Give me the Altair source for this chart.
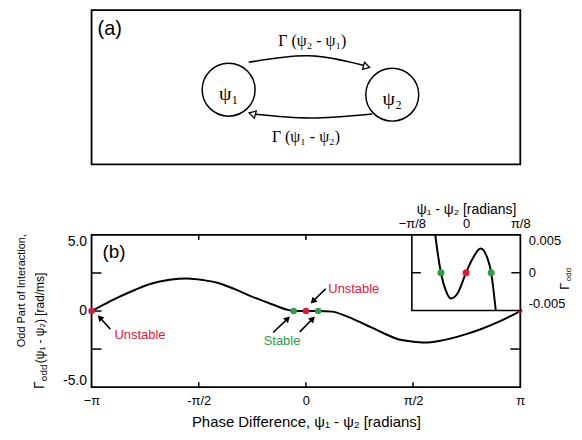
import math
import altair as alt
import pandas as pd

PI = math.pi

# ---------------- data ----------------
# Panel (b): odd part of the interaction function (main plot)
main_phase = [-PI, -2.95, -2.76, -2.50, -2.27, -2.00, -1.74, -1.50, -1.30, -1.05,
              -0.81, -0.60, -0.43, -0.30, -0.18, 0.0, 0.18, 0.38, 0.60, 0.86,
              1.10, 1.35, 1.55, 1.74, 1.95, 2.10, 2.35, 2.56, 2.83, PI]
main_gamma = [0.0, 0.45, 0.88, 1.40, 1.79, 2.05, 2.14, 2.03, 1.86, 1.45,
              0.98, 0.62, 0.33, 0.12, 0.0, 0.0, 0.0, -0.04, -0.35, -0.87,
              -1.38, -1.85, -2.00, -2.07, -1.97, -1.83, -1.52, -1.20, -0.70, 0.0]

# inset (zoom around zero)
inset_phase = [-0.223, -0.206, -0.182, -0.146, -0.110, -0.062, 0.0, 0.045,
               0.105, 0.153, 0.182, 0.201, 0.215]
inset_gamma = [0.005, 0.00265, 0.0, -0.0024, -0.0034, -0.00274, 0.0, 0.00177,
               0.0032, 0.0020, 0.0, -0.00265, -0.005]

# fixed points
main_fp_phase = [-PI, -0.18, 0.0, 0.18, PI]
main_fp_kind = ["Unstable", "Stable", "Unstable", "Stable", "Unstable"]
main_fp_size = [42, 42, 42, 42, 20]
inset_fp_phase = [-0.182, 0.0, 0.182]
inset_fp_kind = ["Stable", "Unstable", "Stable"]

# annotation labels (phase, gamma)
note_text = ["Unstable", "Stable", "Unstable"]
note_x = [-2.806, -0.35, 0.328]
note_y = [-1.59, -1.95, 1.42]
note_align = ["left", "center", "left"]
note_kind = ["Unstable", "Stable", "Unstable"]

# arrows (tail -> tip) in data units
arrow_tail_x = [-2.865, -0.48, -0.09, 0.29]
arrow_tail_y = [-1.20, -1.41, -1.37, 1.46]
arrow_tip_x = [-3.05, -0.235, 0.13, 0.07]
arrow_tip_y = [-0.28, -0.37, -0.37, 0.50]

x_tick_labels = ["−π", "-π/2", "0", "π/2", "π"]
inset_tick_labels = ["−π/8", "0", "π/8"]

# Panel (a) schematic (diagram units)
node_x = [137.8, 302.3]
node_y = [80.0, 85.0]
node_label = ["ψ₁", "ψ₂"]
node_label_y = [84.0, 89.0]
arc_id = ["up", "up", "up", "low", "low", "low"]
arc_x = [158.0, 218.0, 273.0, 282.0, 220.0, 164.5]
arc_y = [52.5, 46.0, 55.5, 104.5, 108.5, 104.8]
head_x = [276.5, 161.5]
head_y = [56.8, 104.2]
head_shape = ["triangle-right", "triangle-left"]
edge_text = ["Γ (ψ₂ - ψ₁)", "Γ (ψ₁ - ψ₂)"]
edge_x = [222.0, 215.5]
edge_y = [31.0, 128.0]

FONT = "Liberation Sans, Arial, Helvetica, sans-serif"
SERIF = "Liberation Serif, Times New Roman, serif"
RED = "#e2163b"
GREEN = "#2f9e44"
kind_color = alt.Scale(domain=["Unstable", "Stable"], range=[RED, GREEN])

W, H = 431, 153
AW, AH = 431, 155

# ---------------- panel (a) ----------------
xa = alt.Scale(domain=[0, AW], nice=False, zero=False)
ya = alt.Scale(domain=[0, AH], nice=False, zero=False, reverse=True)

def XA(f):
    return alt.X(f, type="quantitative", scale=xa, axis=None)

def YA(f):
    return alt.Y(f, type="quantitative", scale=ya, axis=None)

nodes_df = pd.DataFrame({"x": node_x, "y": node_y, "ly": node_label_y, "label": node_label})
nodes = alt.Chart(nodes_df).mark_point(
    shape="circle", size=2830, filled=False, color="black", strokeWidth=1.5, opacity=1
).encode(x=XA("x"), y=YA("y"))
node_text = alt.Chart(nodes_df).mark_text(font=SERIF, fontSize=20, color="black").encode(
    x=XA("x"), y=YA("ly"), text="label:N")

arcs_df = pd.DataFrame({"arc": arc_id, "x": arc_x, "y": arc_y, "o": list(range(len(arc_x)))})
arcs = alt.Chart(arcs_df).mark_line(interpolate="natural", color="black", strokeWidth=1.5).encode(
    x=XA("x"), y=YA("y"), detail="arc:N", order="o:Q")

heads_df = pd.DataFrame({"x": head_x, "y": head_y, "shape": head_shape})
heads = alt.Chart(heads_df).mark_point(
    filled=True, fill="white", stroke="black", strokeWidth=1.3, size=55, angle=15, opacity=1
).encode(x=XA("x"), y=YA("y"), shape=alt.Shape("shape:N", scale=None))

edges_df = pd.DataFrame({"x": edge_x, "y": edge_y, "t": edge_text})
edges = alt.Chart(edges_df).mark_text(font=SERIF, fontSize=16, color="black").encode(
    x=XA("x"), y=YA("y"), text="t:N")

tag_a = alt.Chart(pd.DataFrame({"x": [6.0], "y": [19.0], "t": ["(a)"]})).mark_text(
    font=FONT, fontSize=20, align="left", color="black").encode(x=XA("x"), y=YA("y"), text="t:N")

panel_a = alt.layer(arcs, heads, nodes, node_text, edges, tag_a).properties(width=AW, height=AH)

# ---------------- panel (b) ----------------
xs = alt.Scale(domain=[-PI, PI], nice=False, zero=False)
ys = alt.Scale(domain=[-5, 5], nice=False, zero=False)

x_axis = alt.Axis(
    orient="bottom", values=[-PI, -PI / 2, 0, PI / 2, PI],
    labelExpr=("datum.value < -3 ? '%s' : datum.value < -1 ? '%s' : datum.value < 1 ? '%s' : "
               "datum.value < 3 ? '%s' : '%s'") % tuple(x_tick_labels),
    ticks=False, domain=False, grid=False, labelPadding=7, labelFontSize=13, labelFont=FONT,
    labelColor="black", labelFlush=False, labelOverlap=False,
    title="Phase Difference,  ψ₁ - ψ₂ [radians]", titleFont=FONT, titleFontSize=15,
    titleFontWeight="normal", titleColor="black", titlePadding=8)
y_axis = alt.Axis(
    orient="left", values=[-5, 0, 5],
    labelExpr="datum.value > 1 ? '5.0' : datum.value < -1 ? '-5.0' : '0'",
    ticks=False, domain=False, grid=False, labelPadding=5, labelFontSize=14, labelFont=FONT,
    labelColor="black", labelFlush=True, title=None)

def XB(f):
    return alt.X(f, type="quantitative", scale=xs, axis=x_axis)

def YB(f):
    return alt.Y(f, type="quantitative", scale=ys, axis=y_axis)

curve = alt.Chart(pd.DataFrame({"x": main_phase, "y": main_gamma})).mark_line(
    color="black", strokeWidth=2, interpolate="monotone").encode(x=XB("x"), y=YB("y"))

# inward tick marks of the main frame
PXX = W / (2 * PI)
PXY = H / 10.0
lx = 10 / PXX
ly = 5 / PXY
tick_x = [-PI, -PI, -PI, PI - lx, -PI / 2, 0, PI / 2, -PI / 2, 0]
tick_x2 = [-PI + lx, -PI + lx, -PI + lx, PI, -PI / 2, 0, PI / 2, -PI / 2, 0]
tick_y = [-2.5, 0, 2.5, -2.5, -5, -5, -5, 5, 5]
tick_y2 = [-2.5, 0, 2.5, -2.5, -5 + ly, -5 + ly, -5 + ly, 5 - ly, 5 - ly]
ticks_df = pd.DataFrame({"x": tick_x, "x2": tick_x2, "y": tick_y, "y2": tick_y2})
ticks = alt.Chart(ticks_df).mark_rule(color="black", strokeWidth=1.5).encode(
    x=XB("x"), x2="x2", y=YB("y"), y2="y2")

# arrows
heads_rows = []
for tx, ty, px, py in zip(arrow_tail_x, arrow_tail_y, arrow_tip_x, arrow_tip_y):
    dx = (px - tx) * PXX
    dy = -(py - ty) * PXY
    L = math.hypot(dx, dy)
    ux, uy = dx / L, dy / L
    ang = math.degrees(math.atan2(dx, -dy)) % 360
    cx = px - 3.0 * ux / PXX
    cy = py + 3.0 * uy / PXY
    heads_rows.append({"tx": tx, "ty": ty, "cx": cx, "cy": cy, "ang": ang})
arr_df = pd.DataFrame(heads_rows)
arrow_lines = alt.Chart(arr_df).mark_rule(color="black", strokeWidth=1.6).encode(
    x=XB("tx"), y=YB("ty"), x2="cx", y2="cy")
arrow_heads = alt.Chart(arr_df).mark_point(
    shape="triangle-up", filled=True, color="black", size=50, opacity=1).encode(
    x=XB("cx"), y=YB("cy"), angle=alt.Angle("ang:Q", scale=None))

fp_df = pd.DataFrame({"x": main_fp_phase, "y": [0.0] * len(main_fp_phase),
                      "kind": main_fp_kind, "s": main_fp_size})
fps = alt.Chart(fp_df).mark_point(filled=True, opacity=1).encode(
    x=XB("x"), y=YB("y"), color=alt.Color("kind:N", scale=kind_color, legend=None),
    size=alt.Size("s:Q", scale=None))

notes_df = pd.DataFrame({"x": note_x, "y": note_y, "t": note_text, "kind": note_kind, "al": note_align})
notes_l = alt.Chart(notes_df[notes_df.al == "left"]).mark_text(
    font=FONT, fontSize=13, align="left").encode(
    x=XB("x"), y=YB("y"), text="t:N", color=alt.Color("kind:N", scale=kind_color, legend=None))
notes_c = alt.Chart(notes_df[notes_df.al == "center"]).mark_text(
    font=FONT, fontSize=13, align="center").encode(
    x=XB("x"), y=YB("y"), text="t:N", color=alt.Color("kind:N", scale=kind_color, legend=None))

tag_b = alt.Chart(pd.DataFrame({"x": [-2.98], "y": [3.9], "t": ["(b)"]})).mark_text(
    font=FONT, fontSize=19, align="left", color="black").encode(x=XB("x"), y=YB("y"), text="t:N")

# y-axis title pieces (rotated)
def rot_text(txt, px, py, size, align="left", font=FONT):
    return alt.Chart(pd.DataFrame({"t": [txt]})).mark_text(
        font=font, fontSize=size, angle=270, align=align, baseline="middle", color="black"
    ).encode(x=alt.value(px), y=alt.value(py), text="t:N")

ytitle1 = rot_text("Odd Part of  Interaction,", -70, 56, 11, "center")
ytitle2a = rot_text("Γ", -51.5, 155, 14)
ytitle2b = rot_text("odd", -47.5, 147, 10)
ytitle2c = rot_text("(ψ₁ - ψ₂) [rad/ms]", -51.5, 129, 12)
rtitle_a = rot_text("Γ", 476, 55, 13)
rtitle_b = rot_text("odd", 479.5, 46.5, 8)

main = alt.layer(curve, ticks, arrow_lines, arrow_heads, fps, notes_l, notes_c, tag_b,
                 ytitle1, ytitle2a, ytitle2b, ytitle2c, rtitle_a, rtitle_b)

# inset
xi = alt.Scale(domain=[-PI / 8, PI / 8], range=[322, 431], nice=False, zero=False)
yi = alt.Scale(domain=[-0.005, 0.005], range=[76, 0], nice=False, zero=False)
xi_axis = alt.Axis(
    orient="top", values=[-PI / 8, 0, PI / 8],
    labelExpr="datum.value < -0.1 ? '%s' : datum.value > 0.1 ? '%s' : '%s'" % (
        inset_tick_labels[0], inset_tick_labels[2], inset_tick_labels[1]),
    ticks=False, domain=False, grid=False, labelPadding=4, labelFontSize=13, labelFont=FONT,
    labelColor="black", labelFlush=False, labelOverlap=False,
    title="ψ₁ - ψ₂ [radians]", titleFont=FONT, titleFontSize=14, titleFontWeight="normal",
    titleColor="black", titlePadding=2)
yi_axis = alt.Axis(
    orient="right", values=[-0.005, 0, 0.005],
    labelExpr="datum.value > 0.001 ? '0.005' : datum.value < -0.001 ? '-0.005' : '0'",
    ticks=False, domain=False, grid=False, labelPadding=8, labelFontSize=13, labelFont=FONT,
    labelColor="black", labelFlush=True, title=None)

def XI(f):
    return alt.X(f, type="quantitative", scale=xi, axis=xi_axis)

def YI(f):
    return alt.Y(f, type="quantitative", scale=yi, axis=yi_axis)

frame = alt.Chart(pd.DataFrame({"x": [-PI / 8], "x2": [PI / 8], "y": [-0.005], "y2": [0.005]})).mark_rect(
    fill="white", stroke="black", strokeWidth=1.6).encode(x=XI("x"), x2="x2", y=YI("y"), y2="y2")
itl = 9 * (PI / 4) / 109
iticks = alt.Chart(pd.DataFrame({"x": [-PI / 8, PI / 8 - itl], "x2": [-PI / 8 + itl, PI / 8],
                                 "y": [0.0, 0.0]})).mark_rule(color="black", strokeWidth=1.5).encode(
    x=XI("x"), x2="x2", y=YI("y"))
icurve = alt.Chart(pd.DataFrame({"x": inset_phase, "y": inset_gamma})).mark_line(
    color="black", strokeWidth=2, interpolate="monotone").encode(x=XI("x"), y=YI("y"))
ifp = alt.Chart(pd.DataFrame({"x": inset_fp_phase, "y": [0.0] * 3, "kind": inset_fp_kind})).mark_point(
    filled=True, size=50, opacity=1).encode(
    x=XI("x"), y=YI("y"), color=alt.Color("kind:N", scale=kind_color, legend=None))

inset = alt.layer(frame, iticks, icurve, ifp)

panel_b = alt.layer(main, inset).resolve_scale(x="independent", y="independent").properties(
    width=W, height=H)

chart = alt.vconcat(panel_a, panel_b, spacing=36).properties(
    padding={"left": 7, "top": 0, "right": 0, "bottom": 0},
    background="white"
).configure_view(stroke="black", strokeWidth=1.8)

chart.save("out.html", embed_options={"renderer": "svg", "actions": False})
